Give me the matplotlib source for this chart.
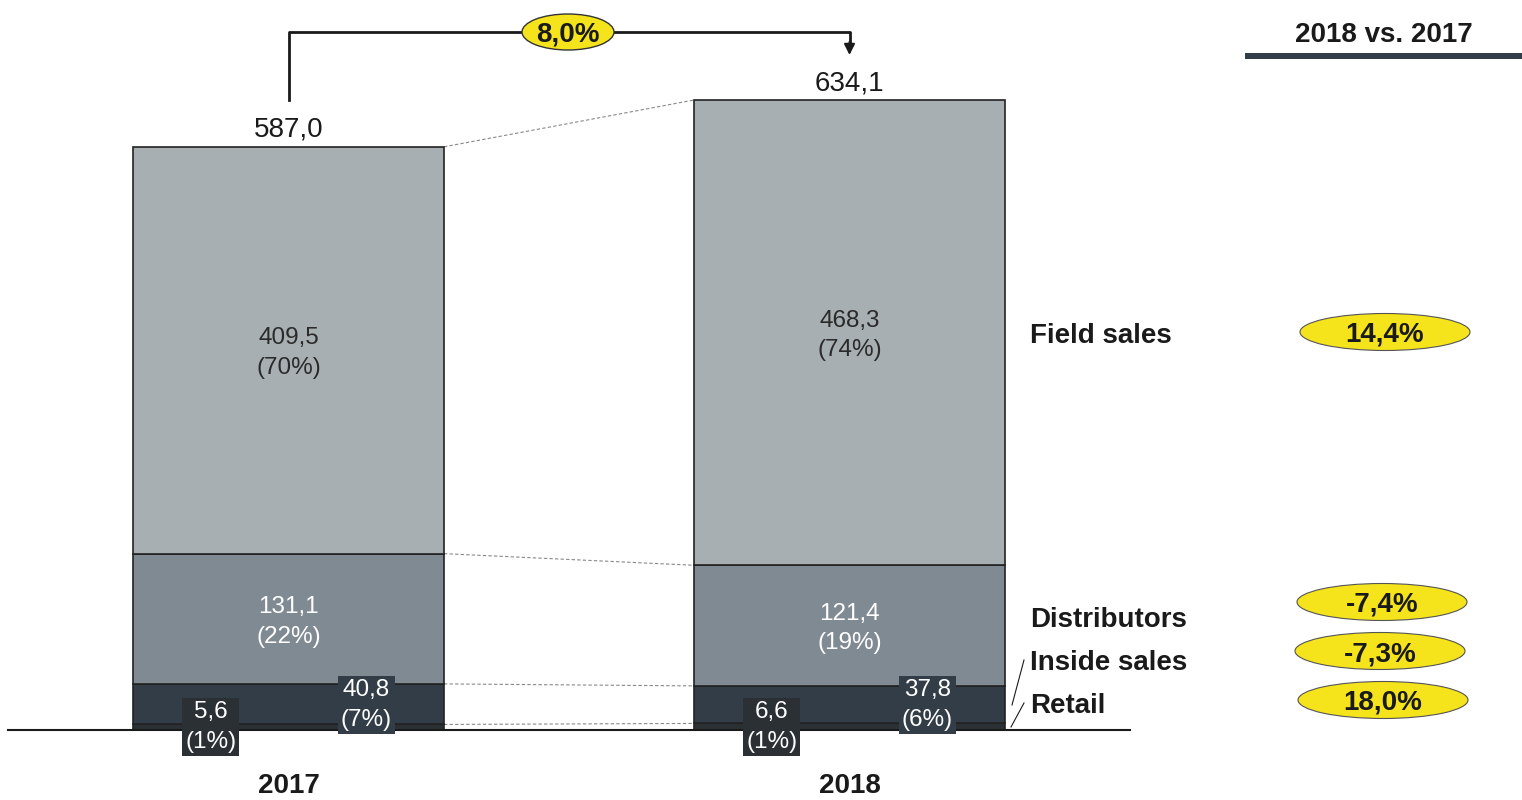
import matplotlib
matplotlib.use("Agg")
from matplotlib import pyplot as plt
from matplotlib.patches import Ellipse, Rectangle

plt.rcParams['font.family'] = ['Liberation Sans', 'DejaVu Sans']

years = ['2017', '2018']
segments = ['Retail', 'Inside sales', 'Distributors', 'Field sales']
values = {
    '2017': [5.6, 40.8, 131.1, 409.5],
    '2018': [6.6, 37.8, 121.4, 468.3],
}
seg_growth = [18.0, -7.3, -7.4, 14.4]   # 2018 vs. 2017 per segment
total_growth = 8.0

seg_colors = ['#2b3034', '#323d47', '#7f8a93', '#a8afb2']
text_colors = ['white', 'white', 'white', '#2a2a2a']
yellow = '#f5e41c'


def fmt(v):
    return f"{v:.1f}".replace('.', ',')


# pixel layout: x in pixels, y in data units, baseline at pixel row 730
k = 0.9935          # pixels per unit
base_px = 730
dy = 3 / k          # va='center' sits a bit high, nudge text down
def py(p):
    return (base_px - p) / k


fig = plt.figure(figsize=(15.22, 8), dpi=100)
ax = fig.add_axes([0, 0, 1, 1])
ax.set_xlim(0, 1522)
ax.set_ylim(py(800), py(0))
ax.axis('off')

bar_x = [288.5, 849.5]
bar_w = 311
box_y = [727, 705]   # label boxes for the thin segments (pixel rows)

tops = {}
for xi, yr in zip(bar_x, years):
    vals = values[yr]
    total = sum(vals)
    bottom = 0
    tops[yr] = []
    for i, v in enumerate(vals):
        ax.bar(xi, v, bottom=bottom, width=bar_w, color=seg_colors[i],
               edgecolor='#222222', linewidth=1.2, zorder=2)
        pct = f"({round(v / total * 100):.0f}%)"
        label = f"{fmt(v)}\n{pct}"
        if i < 2:
            # small segments: labels in boxes, retail left quarter, inside sales right quarter
            lx = xi - bar_w / 4 if i == 0 else xi + bar_w / 4
            ax.text(lx, py(box_y[i]), label, ha='center', va='center', fontsize=17.5,
                    color='white', linespacing=1.45, zorder=5,
                    bbox=dict(boxstyle='square,pad=0.12', fc=seg_colors[i], ec='none'))
        else:
            ax.text(xi, bottom + v / 2 - dy, label, ha='center', va='center',
                    fontsize=17.5, color=text_colors[i], linespacing=1.45, zorder=3)
        bottom += v
        tops[yr].append(bottom)
    ax.text(xi, total + 20 / k - dy, fmt(total), ha='center', va='center',
            fontsize=20, color='#1a1a1a')
    ax.text(xi, py(783) - dy, yr, ha='center', va='center', fontsize=20,
            fontweight='bold', color='#1a1a1a')

# dashed connectors between bars
for t0, t1 in zip(tops['2017'], tops['2018']):
    ax.plot([bar_x[0] + bar_w / 2, bar_x[1] - bar_w / 2], [t0, t1],
            ls=(0, (3, 2)), color='#888888', lw=0.8, zorder=1)

# baseline
ax.plot([8, 1130], [0, 0], color='#1a1a1a', lw=1.5, zorder=4)

# total growth bracket
ax.plot([bar_x[0], bar_x[0], bar_x[1], bar_x[1]],
        [py(100), py(32), py(32), py(44)], color='#1a1a1a', lw=2, zorder=3)
ax.annotate('', xy=(bar_x[1], py(55)), xytext=(bar_x[1], py(42)),
            arrowprops=dict(arrowstyle='-|>', color='#1a1a1a', lw=1.5,
                            mutation_scale=16, shrinkA=0, shrinkB=0))
ax.add_patch(Ellipse((568, py(32)), 92, 36 / k, fc=yellow, ec='#333333',
                     lw=1, zorder=4))
ax.text(568, py(32) - dy, f"{fmt(total_growth)}%", ha='center', va='center',
        fontsize=20, fontweight='bold', color='#1a1a1a', zorder=5)

# header on the right
ax.text(1384, py(32) - dy, '2018 vs. 2017', ha='center', va='center', fontsize=20,
        fontweight='bold', color='#1a1a1a')
ax.add_patch(Rectangle((1245, py(59)), 277, 6 / k, fc='#323d47', ec='none'))

# segment labels and growth ellipses
label_y = [703, 660, 617, 333]
ell_x = [1383, 1380, 1382, 1385]
ell_y = [700, 651, 602, 332]
for i, seg in enumerate(segments):
    ax.text(1030, py(label_y[i]) - dy, seg, ha='left', va='center', fontsize=20,
            fontweight='bold', color='#1a1a1a')
    ax.add_patch(Ellipse((ell_x[i], py(ell_y[i])), 170, 37 / k, fc=yellow,
                         ec='#555555', lw=0.8))
    ax.text(ell_x[i], py(ell_y[i]) - dy, f"{fmt(seg_growth[i])}%", ha='center',
            va='center', fontsize=20, fontweight='bold', color='#1a1a1a')

# leader lines for the thin segments
ax.plot([1012, 1024], [py(705), py(660)], color='#1a1a1a', lw=0.8)
ax.plot([1011, 1024], [py(727), py(703)], color='#1a1a1a', lw=0.8)

fig.savefig('out.png', dpi=100)
